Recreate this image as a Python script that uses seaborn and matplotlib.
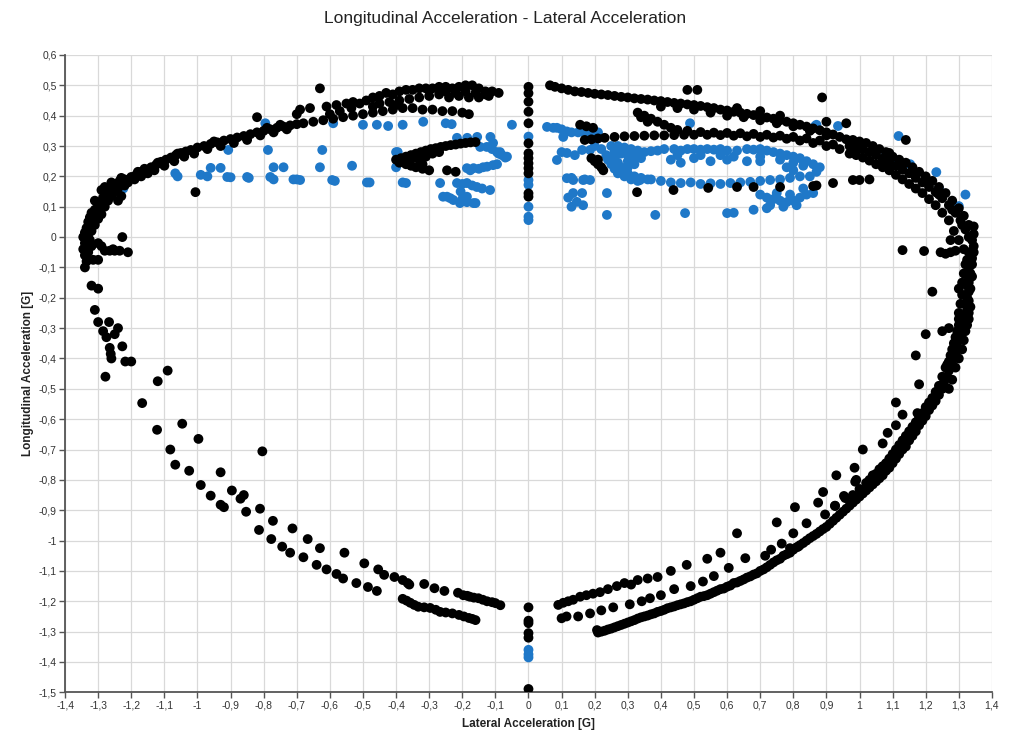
import numpy as np
import pandas as pd
import matplotlib
matplotlib.use("Agg")
import matplotlib.pyplot as plt
from matplotlib.ticker import MultipleLocator, FuncFormatter
import seaborn as sns

# ---- black trace (x = lateral G, y = longitudinal G), grouped by part of the lap ----
left_arc = [
    (-1.34, -0.10), (-1.335, -0.08), (-1.34, -0.06), (-1.345, -0.04), (-1.34, -0.02), (-1.345, 0.0),
    (-1.34, 0.015), (-1.335, 0.03), (-1.33, 0.05), (-1.325, 0.065), (-1.32, 0.08), (-1.31, 0.09),
    (-1.30, 0.10), (-1.295, 0.115), (-1.285, 0.13), (-1.28, 0.145), (-1.27, 0.155), (-1.265, 0.165),
    (-1.25, 0.175), (-1.235, 0.185), (-1.22, 0.19), (-1.20, 0.198), (-1.185, 0.205), (-1.17, 0.215),
    (-1.155, 0.222), (-1.14, 0.23), (-1.125, 0.238), (-1.11, 0.248), (-1.095, 0.255), (-1.08, 0.262),
    (-1.065, 0.27), (-1.05, 0.277), (-1.035, 0.282), (-1.02, 0.287), (-1.0, 0.295), (-0.98, 0.30),
    (-0.96, 0.307), (-0.94, 0.312), (-0.92, 0.318), (-0.90, 0.323), (-0.88, 0.328), (-0.86, 0.333),
    (-0.84, 0.339), (-0.82, 0.345), (-0.80, 0.35), (-0.78, 0.355), (-0.76, 0.36), (-0.74, 0.364),
    (-0.72, 0.368), (-0.70, 0.372),
    (-1.33, 0.0), (-1.32, 0.02), (-1.31, 0.04), (-1.30, 0.06), (-1.29, 0.075), (-1.315, 0.06),
    (-1.30, 0.085), (-1.28, 0.10), (-1.27, 0.12), (-1.26, 0.135), (-1.25, 0.15), (-1.24, 0.16),
    (-1.22, 0.17), (-1.21, 0.18), (-1.19, 0.19), (-1.17, 0.20), (-1.15, 0.21), (-1.13, 0.22),
    (-1.23, 0.135), (-1.24, 0.12), (-1.10, 0.235), (-1.07, 0.25), (-1.04, 0.265), (-1.01, 0.275),
    (-0.97, 0.29), (-0.93, 0.30), (-0.89, 0.31), (-0.85, 0.32), (-0.81, 0.335), (-0.77, 0.345),
    (-0.73, 0.355), (-1.30, -0.02), (-1.32, -0.03), (-1.325, -0.01), (-1.33, -0.05), (-1.315, -0.075),
    (-1.33, -0.075), (-1.30, -0.075),
    (-1.31, 0.12), (-1.29, 0.155), (-1.26, 0.18), (-1.23, 0.195), (-1.16, 0.225), (-1.12, 0.245),
    (-1.06, 0.275), (-0.95, 0.315), (-0.82, 0.395), (-0.70, 0.405), (-0.79, 0.36), (-0.75, 0.37),
    (-1.18, 0.215), (-1.28, 0.165),
    (-1.29, -0.03), (-1.227, 0.0), (-1.21, -0.05), (-1.28, -0.045), (-1.265, -0.045), (-1.25, -0.045),
    (-1.235, -0.045), (-1.255, -0.04), (-1.006, 0.148),
]

left_braking = [
    (-1.32, -0.16), (-1.30, -0.17), (-1.31, -0.24), (-1.30, -0.28), (-1.285, -0.31), (-1.275, -0.33),
    (-1.267, -0.28), (-1.25, -0.32), (-1.24, -0.30), (-1.265, -0.365), (-1.26, -0.40), (-1.262, -0.385),
    (-1.227, -0.36), (-1.218, -0.41), (-1.20, -0.41), (-1.278, -0.46), (-1.167, -0.547), (-1.12, -0.475),
    (-1.09, -0.44), (-1.122, -0.635), (-1.046, -0.615), (-1.082, -0.70), (-1.067, -0.75), (-1.025, -0.77),
    (-0.997, -0.665), (-0.93, -0.775), (-0.99, -0.817), (-0.96, -0.852), (-0.93, -0.882), (-0.92, -0.89),
    (-0.896, -0.835), (-0.87, -0.862), (-0.86, -0.85), (-0.853, -0.905), (-0.811, -0.895), (-0.814, -0.965),
    (-0.772, -0.935), (-0.777, -0.995), (-0.744, -1.02), (-0.713, -0.96), (-0.72, -1.04), (-0.68, -1.055),
    (-0.667, -0.995), (-0.64, -1.08), (-0.63, -1.025), (-0.61, -1.095), (-0.58, -1.11), (-0.56, -1.125),
    (-0.556, -1.04), (-0.52, -1.14), (-0.496, -1.075), (-0.485, -1.153), (-0.458, -1.166), (-0.454, -1.095),
    (-0.436, -1.113), (-0.405, -1.12), (-0.38, -1.13), (-0.365, -1.14), (-0.36, -1.145), (-0.315, -1.143),
    (-0.284, -1.157), (-0.254, -1.166), (-0.213, -1.172), (-0.197, -1.18), (-0.185, -1.182), (-0.177, -1.185),
    (-0.165, -1.188), (-0.151, -1.19), (-0.138, -1.195), (-0.125, -1.20), (-0.11, -1.203), (-0.10, -1.206),
    (-0.085, -1.213), (-0.804, -0.706),
    (-0.38, -1.192), (-0.368, -1.198), (-0.357, -1.205), (-0.345, -1.212), (-0.333, -1.218), (-0.315, -1.22),
    (-0.297, -1.222), (-0.28, -1.228), (-0.267, -1.235), (-0.25, -1.237), (-0.23, -1.24), (-0.21, -1.245),
    (-0.195, -1.25), (-0.18, -1.255), (-0.17, -1.258), (-0.16, -1.262),
]

left_top = [
    (-0.69, 0.42), (-0.66, 0.425), (-0.63, 0.49), (-0.61, 0.43), (-0.58, 0.435), (-0.55, 0.44),
    (-0.53, 0.445), (-0.51, 0.44), (-0.49, 0.45), (-0.47, 0.46), (-0.45, 0.465), (-0.43, 0.475),
    (-0.41, 0.47), (-0.39, 0.48), (-0.37, 0.485), (-0.35, 0.485), (-0.33, 0.49), (-0.31, 0.49),
    (-0.29, 0.49), (-0.27, 0.495), (-0.25, 0.495), (-0.23, 0.49), (-0.21, 0.495), (-0.19, 0.50),
    (-0.17, 0.50), (-0.15, 0.49), (-0.13, 0.48), (-0.11, 0.48), (-0.09, 0.475),
    (-0.45, 0.44), (-0.42, 0.445), (-0.39, 0.45), (-0.36, 0.455), (-0.33, 0.46), (-0.30, 0.465),
    (-0.27, 0.47), (-0.24, 0.46), (-0.21, 0.465), (-0.18, 0.46), (-0.15, 0.46), (-0.12, 0.465),
    (-0.25, 0.48), (-0.22, 0.475), (-0.19, 0.48), (-0.16, 0.475), (-0.13, 0.47),
    (-0.68, 0.375), (-0.65, 0.38), (-0.62, 0.385), (-0.59, 0.39), (-0.56, 0.395), (-0.53, 0.40),
    (-0.50, 0.405), (-0.47, 0.41), (-0.44, 0.415), (-0.41, 0.42), (-0.38, 0.425), (-0.35, 0.425),
    (-0.32, 0.42), (-0.29, 0.42), (-0.26, 0.415), (-0.23, 0.415), (-0.20, 0.41), (-0.18, 0.405),
    (-0.57, 0.415), (-0.60, 0.405), (-0.535, 0.425), (-0.47, 0.43), (-0.40, 0.435),
]

left_hook = [
    (-0.40, 0.255), (-0.385, 0.26), (-0.37, 0.265), (-0.355, 0.27), (-0.34, 0.275), (-0.325, 0.28),
    (-0.31, 0.285), (-0.295, 0.29), (-0.28, 0.293), (-0.265, 0.297), (-0.25, 0.30), (-0.235, 0.303),
    (-0.22, 0.305), (-0.205, 0.308), (-0.19, 0.31), (-0.175, 0.312), (-0.16, 0.313), (-0.39, 0.245),
    (-0.37, 0.24), (-0.355, 0.235), (-0.34, 0.23), (-0.32, 0.225), (-0.30, 0.22), (-0.36, 0.25),
    (-0.33, 0.255), (-0.31, 0.265), (-0.29, 0.275), (-0.27, 0.28), (-0.246, 0.22), (-0.22, 0.215),
    (-0.35, 0.26), (-0.32, 0.24),
]

centre_line = [
    (0, 0.495), (0, 0.474), (0, 0.446), (0, 0.413), (0, 0.375), (0, 0.309), (0, 0.276), (0, 0.26),
    (0, 0.243), (0, 0.227), (0, 0.21), (0, 0.144), (0, 0.133),
    (0, -1.22), (0, -1.264), (0, -1.272), (0, -1.305), (0, -1.32), (0, -1.489),
]

right_top = [
    (0.065, 0.50), (0.08, 0.495), (0.10, 0.49), (0.12, 0.485), (0.14, 0.48), (0.16, 0.478),
    (0.18, 0.475), (0.20, 0.472), (0.22, 0.47), (0.24, 0.468), (0.26, 0.465), (0.28, 0.462),
    (0.30, 0.46), (0.32, 0.457), (0.34, 0.455), (0.36, 0.453), (0.38, 0.45), (0.40, 0.448),
    (0.42, 0.445), (0.44, 0.442), (0.46, 0.44), (0.48, 0.437), (0.50, 0.435), (0.52, 0.432),
    (0.54, 0.428), (0.56, 0.425), (0.58, 0.42), (0.60, 0.417), (0.62, 0.413), (0.64, 0.41),
    (0.66, 0.406), (0.68, 0.402), (0.70, 0.398), (0.72, 0.394), (0.74, 0.39), (0.76, 0.385),
    (0.78, 0.38), (0.80, 0.375), (0.82, 0.37), (0.84, 0.364), (0.86, 0.358), (0.88, 0.352),
    (0.90, 0.345), (0.92, 0.338), (0.94, 0.33), (0.96, 0.322),
    (0.40, 0.43), (0.45, 0.425), (0.50, 0.42), (0.55, 0.41), (0.60, 0.40), (0.65, 0.395),
    (0.70, 0.385), (0.75, 0.375), (0.80, 0.365), (0.85, 0.35), (0.90, 0.335), (0.63, 0.425),
    (0.70, 0.415), (0.76, 0.40),
    (0.48, 0.485), (0.51, 0.485), (0.887, 0.46), (0.90, 0.38), (0.96, 0.375),
    (0.33, 0.41), (0.35, 0.40), (0.37, 0.39), (0.39, 0.38), (0.41, 0.37), (0.43, 0.36),
    (0.45, 0.353), (0.48, 0.35), (0.52, 0.346), (0.56, 0.344), (0.60, 0.343), (0.64, 0.342),
    (0.68, 0.34), (0.72, 0.337), (0.76, 0.334), (0.80, 0.33), (0.84, 0.325), (0.88, 0.318),
    (0.92, 0.305), (0.34, 0.395), (0.36, 0.38),
    (0.156, 0.37), (0.175, 0.365), (0.195, 0.36), (0.17, 0.32), (0.19, 0.322), (0.21, 0.325),
    (0.23, 0.327), (0.26, 0.33), (0.29, 0.332), (0.32, 0.333), (0.35, 0.334), (0.38, 0.335),
    (0.41, 0.335), (0.44, 0.336), (0.47, 0.337), (0.50, 0.337), (0.54, 0.337), (0.58, 0.336),
    (0.62, 0.334), (0.66, 0.332), (0.70, 0.33), (0.74, 0.328), (0.78, 0.324), (0.82, 0.318),
    (0.86, 0.31), (0.90, 0.30), (0.94, 0.29), (0.98, 0.28),
    (0.19, 0.26), (0.20, 0.25), (0.21, 0.24), (0.22, 0.23), (0.226, 0.22), (0.21, 0.255),
    (0.328, 0.148), (0.438, 0.155), (0.543, 0.162), (0.63, 0.165), (0.68, 0.165), (0.76, 0.165),
    (0.86, 0.168), (0.87, 0.17), (0.92, 0.178), (0.98, 0.188), (1.0, 0.188), (1.03, 0.19),
    (1.14, 0.32), (1.09, 0.277),
]

right_corner = [
    (0.98, 0.32), (1.00, 0.315), (1.02, 0.31), (1.04, 0.30), (1.06, 0.29), (1.08, 0.28),
    (1.10, 0.265), (1.12, 0.255), (1.14, 0.245), (1.16, 0.23), (1.18, 0.215), (1.20, 0.20),
    (1.22, 0.185), (1.24, 0.165), (1.26, 0.145), (1.28, 0.12), (1.30, 0.095), (1.315, 0.07),
    (1.33, 0.04), (1.345, 0.01),
    (0.97, 0.30), (0.99, 0.295), (1.01, 0.29), (1.03, 0.28), (1.05, 0.27), (1.07, 0.258),
    (1.09, 0.245), (1.11, 0.235), (1.13, 0.222), (1.15, 0.21), (1.17, 0.195), (1.19, 0.18),
    (1.21, 0.165), (1.23, 0.148), (1.25, 0.128), (1.27, 0.105), (1.29, 0.08), (1.305, 0.055),
    (1.32, 0.025), (1.33, 0.0),
    (0.97, 0.275), (0.99, 0.27), (1.01, 0.262), (1.03, 0.252), (1.05, 0.24), (1.07, 0.23),
    (1.09, 0.22), (1.11, 0.205), (1.13, 0.19), (1.15, 0.175), (1.17, 0.16), (1.19, 0.145),
    (1.21, 0.125), (1.23, 0.105), (1.25, 0.08), (1.27, 0.055), (1.285, 0.02), (1.30, -0.01),
    (1.315, -0.04), (1.325, -0.075),
    (1.00, 0.30), (1.04, 0.285), (1.08, 0.265), (1.12, 0.24), (1.16, 0.215), (1.20, 0.185),
    (1.24, 0.14), (1.28, 0.09), (1.31, 0.04), (1.34, -0.01), (1.345, -0.03), (1.345, 0.035),
    (1.33, -0.05),
    (1.13, -0.043), (1.195, -0.046), (1.245, -0.05), (1.26, -0.055), (1.275, -0.05), (1.29, -0.045),
    (1.22, -0.18), (1.30, -0.17), (1.275, -0.01), (1.333, -0.118), (1.33, -0.15),
]

right_braking = [
    (1.335, -0.08), (1.33, -0.10), (1.335, -0.12), (1.33, -0.14), (1.325, -0.16), (1.33, -0.18),
    (1.325, -0.20), (1.32, -0.22), (1.325, -0.24), (1.315, -0.26), (1.32, -0.28), (1.31, -0.30),
    (1.305, -0.32), (1.30, -0.34), (1.295, -0.36), (1.29, -0.38), (1.285, -0.40), (1.28, -0.42),
    (1.27, -0.44), (1.265, -0.46), (1.255, -0.48), (1.25, -0.50), (1.24, -0.52), (1.23, -0.54),
    (1.22, -0.555), (1.21, -0.57), (1.20, -0.59), (1.19, -0.605), (1.18, -0.62), (1.17, -0.64),
    (1.16, -0.655), (1.15, -0.67), (1.14, -0.69), (1.13, -0.70), (1.12, -0.715), (1.11, -0.73),
    (1.10, -0.745), (1.09, -0.76), (1.08, -0.77), (1.07, -0.785), (1.06, -0.795), (1.05, -0.805),
    (1.04, -0.815), (1.03, -0.825), (1.02, -0.835), (1.01, -0.845), (1.00, -0.855), (0.99, -0.865),
    (0.98, -0.875), (0.97, -0.885), (0.96, -0.895), (0.95, -0.905), (0.94, -0.915), (0.93, -0.925),
    (0.92, -0.935), (0.91, -0.945), (0.90, -0.955), (0.89, -0.962), (0.88, -0.97), (0.87, -0.978),
    (0.86, -0.985), (0.85, -0.992), (0.84, -1.0), (0.83, -1.008), (0.82, -1.015), (0.81, -1.022),
    (0.80, -1.03), (0.79, -1.04), (0.78, -1.045), (0.77, -1.05), (0.76, -1.06), (0.75, -1.065),
    (0.74, -1.072), (0.73, -1.08), (0.72, -1.088), (0.71, -1.095), (0.70, -1.10), (0.69, -1.108),
    (0.68, -1.112), (0.67, -1.118), (0.66, -1.122), (0.65, -1.128), (0.64, -1.133), (0.63, -1.138),
    (0.62, -1.14), (0.61, -1.148), (0.60, -1.152), (0.59, -1.158), (0.58, -1.16), (0.57, -1.165),
    (0.56, -1.17), (0.55, -1.175), (0.54, -1.18), (0.53, -1.183), (0.52, -1.185), (0.51, -1.19),
    (0.50, -1.195), (0.49, -1.2), (0.48, -1.203), (0.47, -1.207), (0.46, -1.21), (0.45, -1.213),
    (0.44, -1.217), (0.43, -1.22), (0.42, -1.223), (0.41, -1.228), (0.40, -1.232), (0.39, -1.235),
    (0.38, -1.24), (0.37, -1.243), (0.36, -1.247), (0.35, -1.25), (0.34, -1.253), (0.33, -1.257),
    (0.32, -1.262), (0.31, -1.266), (0.30, -1.27), (0.29, -1.274), (0.28, -1.278), (0.27, -1.282),
    (0.26, -1.286), (0.25, -1.29), (0.24, -1.293), (0.23, -1.297), (0.22, -1.30), (0.21, -1.303),
    (0.207, -1.295),
    (1.30, -0.25), (1.30, -0.29), (1.29, -0.33), (1.28, -0.37), (1.27, -0.41), (1.26, -0.43),
    (1.25, -0.46), (1.24, -0.49), (1.23, -0.51), (1.22, -0.53), (1.21, -0.545), (1.20, -0.56),
    (1.19, -0.58), (1.18, -0.595), (1.17, -0.61), (1.16, -0.625), (1.15, -0.64), (1.14, -0.655),
    (1.13, -0.67), (1.12, -0.685), (1.11, -0.70), (1.10, -0.715), (1.09, -0.73), (1.08, -0.745),
    (1.07, -0.755), (1.06, -0.765), (1.05, -0.78), (1.04, -0.79), (1.03, -0.80), (1.02, -0.81),
    (1.00, -0.83), (0.98, -0.85),
    (1.345, -0.05), (1.34, -0.09), (1.34, -0.13), (1.335, -0.17), (1.33, -0.21), (1.33, -0.25),
    (1.325, -0.29),
    (1.32, -0.09), (1.315, -0.12), (1.31, -0.15), (1.31, -0.19), (1.305, -0.22), (1.30, -0.27),
    (1.295, -0.31), (1.285, -0.35), (1.275, -0.39), (1.265, -0.42), (1.34, -0.07), (1.335, -0.23),
    (1.33, -0.27), (1.32, -0.31), (1.315, -0.34), (1.31, -0.37), (1.30, -0.40), (1.29, -0.43),
    (1.28, -0.47), (1.27, -0.50),
    (1.20, -0.32), (1.25, -0.31), (1.27, -0.30), (1.17, -0.39), (1.18, -0.485), (1.11, -0.545),
    (1.13, -0.585), (1.175, -0.58), (1.11, -0.62), (1.085, -0.645), (1.07, -0.68), (1.01, -0.70),
    (0.985, -0.76), (0.99, -0.80), (0.93, -0.785), (1.04, -0.785), (0.957, -0.86), (0.926, -0.885),
    (0.09, -1.212), (0.105, -1.205), (0.12, -1.2), (0.135, -1.195), (0.156, -1.185), (0.175, -1.18),
    (0.195, -1.175), (0.216, -1.17), (0.24, -1.16), (0.267, -1.15), (0.29, -1.14), (0.31, -1.145),
    (0.33, -1.13), (0.36, -1.125), (0.39, -1.12), (0.43, -1.10), (0.478, -1.08), (0.54, -1.06),
    (0.58, -1.04), (0.63, -0.976), (0.655, -1.058), (0.75, -0.94), (0.805, -0.89), (0.875, -0.875),
    (0.89, -0.84), (0.987, -0.806), (0.953, -0.853),
    (0.10, -1.256), (0.115, -1.25), (0.15, -1.25), (0.186, -1.24), (0.22, -1.23), (0.256, -1.22),
    (0.306, -1.21), (0.342, -1.20), (0.367, -1.19), (0.40, -1.18), (0.44, -1.16), (0.49, -1.15),
    (0.527, -1.135), (0.56, -1.117), (0.605, -1.09), (0.715, -1.05), (0.733, -1.03), (0.765, -1.01),
    (0.80, -0.976), (0.84, -0.943), (0.896, -0.914), (0.926, -0.886), (0.79, -1.025), (0.815, -1.02),
]

# ---- blue trace ----
blue_left = [
    (-1.224, 0.16), (-1.067, 0.21), (-1.06, 0.20), (-0.99, 0.205), (-0.97, 0.20), (-0.96, 0.228),
    (-0.93, 0.228), (-0.91, 0.198), (-0.90, 0.197), (-0.907, 0.287), (-0.85, 0.198), (-0.845, 0.195),
    (-0.795, 0.375), (-0.787, 0.287), (-0.77, 0.23), (-0.74, 0.23), (-0.78, 0.198), (-0.77, 0.19),
    (-0.71, 0.19), (-0.70, 0.19), (-0.69, 0.188), (-0.593, 0.188), (-0.585, 0.185), (-0.59, 0.375),
    (-0.623, 0.287), (-0.63, 0.23), (-0.533, 0.235), (-0.50, 0.37), (-0.458, 0.37), (-0.424, 0.366),
    (-0.38, 0.37), (-0.318, 0.38), (-0.488, 0.18), (-0.48, 0.18), (-0.40, 0.23), (-0.40, 0.28),
    (-0.395, 0.28), (-0.38, 0.18), (-0.37, 0.178), (-0.25, 0.375), (-0.232, 0.372), (-0.216, 0.327),
    (-0.185, 0.327), (-0.155, 0.33), (-0.115, 0.33), (-0.146, 0.297), (-0.107, 0.31), (-0.086, 0.28),
    (-0.065, 0.265), (-0.166, 0.227), (-0.137, 0.23), (-0.107, 0.237), (-0.186, 0.227), (-0.267, 0.178),
    (-0.216, 0.178), (-0.186, 0.178), (-0.156, 0.165), (-0.116, 0.155), (-0.258, 0.133), (-0.227, 0.122),
    (-0.207, 0.112), (-0.166, 0.112), (-0.186, 0.133), (-0.05, 0.37),
    (-0.126, 0.297), (-0.11, 0.29), (-0.095, 0.28), (-0.08, 0.27), (-0.07, 0.262), (-0.176, 0.22),
    (-0.15, 0.225), (-0.125, 0.232), (-0.095, 0.24), (-0.2, 0.175), (-0.17, 0.17), (-0.14, 0.16),
    (-0.246, 0.133), (-0.236, 0.128), (-0.2, 0.125), (-0.186, 0.115), (-0.16, 0.112), (-0.205, 0.15),
    (-0.09, 0.275),
]

blue_centre = [
    (0, 0.331), (0, 0.188), (0, 0.172), (0, 0.1), (0, 0.067), (0, 0.056),
    (0, -1.36), (0, -1.375), (0, -1.385),
]

blue_right = [
    (0.056, 0.363), (0.075, 0.36), (0.086, 0.36), (0.10, 0.355), (0.116, 0.348), (0.13, 0.345),
    (0.15, 0.345), (0.17, 0.343), (0.19, 0.345), (0.21, 0.345),
    (0.105, 0.33), (0.086, 0.254), (0.116, 0.277), (0.116, 0.194), (0.135, 0.188), (0.165, 0.188),
    (0.135, 0.145), (0.146, 0.116), (0.165, 0.105), (0.162, 0.145), (0.186, 0.188), (0.237, 0.145),
    (0.237, 0.073), (0.383, 0.073), (0.473, 0.079), (0.60, 0.079), (0.62, 0.08), (0.68, 0.09),
    (0.162, 0.287), (0.186, 0.287), (0.12, 0.13), (0.13, 0.10), (0.10, 0.28), (0.14, 0.27),
    (0.13, 0.195), (0.17, 0.19),
    (0.25, 0.30), (0.27, 0.30), (0.29, 0.295), (0.31, 0.29), (0.33, 0.285), (0.35, 0.28),
    (0.37, 0.283), (0.39, 0.285), (0.26, 0.28), (0.28, 0.275), (0.30, 0.27), (0.32, 0.265),
    (0.34, 0.26), (0.26, 0.26), (0.27, 0.245), (0.28, 0.23), (0.29, 0.22), (0.30, 0.21),
    (0.32, 0.20), (0.34, 0.195), (0.36, 0.19), (0.25, 0.24), (0.26, 0.225), (0.27, 0.21),
    (0.29, 0.20), (0.31, 0.19), (0.33, 0.185), (0.30, 0.25), (0.32, 0.24), (0.24, 0.255),
    (0.235, 0.27), (0.22, 0.29), (0.20, 0.30), (0.30, 0.23),
    (0.41, 0.29), (0.44, 0.29), (0.46, 0.285), (0.48, 0.29), (0.50, 0.29), (0.52, 0.288),
    (0.54, 0.29), (0.56, 0.288), (0.58, 0.29), (0.60, 0.285), (0.63, 0.285), (0.66, 0.29),
    (0.68, 0.288), (0.70, 0.29), (0.72, 0.285), (0.74, 0.28), (0.76, 0.275), (0.78, 0.27),
    (0.80, 0.265), (0.82, 0.26), (0.84, 0.25), (0.86, 0.24), (0.88, 0.23), (0.45, 0.27),
    (0.52, 0.27), (0.58, 0.27), (0.62, 0.265), (0.70, 0.265), (0.76, 0.255), (0.80, 0.245),
    (0.83, 0.235), (0.87, 0.215), (0.85, 0.20), (0.80, 0.22), (0.78, 0.23),
    (0.43, 0.255), (0.50, 0.26), (0.55, 0.25), (0.66, 0.25), (0.70, 0.25), (0.60, 0.255),
    (0.46, 0.245),
    (0.43, 0.18), (0.46, 0.178), (0.49, 0.18), (0.52, 0.175), (0.55, 0.177), (0.58, 0.175),
    (0.61, 0.178), (0.64, 0.18), (0.67, 0.182), (0.70, 0.185), (0.73, 0.188), (0.76, 0.19),
    (0.79, 0.195), (0.82, 0.20), (0.40, 0.185), (0.37, 0.19), (0.337, 0.188),
    (0.70, 0.14), (0.72, 0.13), (0.74, 0.125), (0.76, 0.12), (0.78, 0.115), (0.80, 0.12),
    (0.82, 0.13), (0.84, 0.14), (0.86, 0.145), (0.75, 0.145), (0.79, 0.14), (0.73, 0.105),
    (0.77, 0.10), (0.81, 0.105), (0.72, 0.095), (0.83, 0.16),
    (0.488, 0.375), (0.87, 0.37), (1.118, 0.333), (1.108, 0.254), (1.153, 0.24), (1.232, 0.214),
    (1.32, 0.14), (1.30, 0.102), (1.24, 0.16), (1.08, 0.27), (0.935, 0.366), (0.866, 0.366),
]

series = {
    "blue": blue_left + blue_centre + blue_right,
    "black": left_arc + left_braking + left_top + left_hook + centre_line
             + right_top + right_corner + right_braking,
}

rows = []
for name, pts in series.items():
    for x, y in pts:
        rows.append({"lat": x, "lon": y, "trace": name})
df = pd.DataFrame(rows)

sns.set_theme(style="white")
plt.rcParams["font.family"] = ["Liberation Sans", "DejaVu Sans"]

fig = plt.figure(figsize=(10.1, 7.32), dpi=100)
ax = fig.add_axes([0.0644, 0.0542, 0.9177, 0.8707])

sns.scatterplot(data=df, x="lat", y="lon", hue="trace",
                palette={"blue": "#1f78c8", "black": "#000000"},
                hue_order=["blue", "black"], s=50, linewidth=0,
                alpha=1, legend=False, ax=ax, zorder=3)

ax.set_xlim(-1.4, 1.4)
ax.set_ylim(-1.5, 0.6)
ax.xaxis.set_major_locator(MultipleLocator(0.1))
ax.yaxis.set_major_locator(MultipleLocator(0.1))


def comma_fmt(v, pos):
    s = f"{round(v, 1):g}"
    if s == "-0":
        s = "0"
    return s.replace(".", ",")


ax.xaxis.set_major_formatter(FuncFormatter(comma_fmt))
ax.yaxis.set_major_formatter(FuncFormatter(comma_fmt))
ax.grid(True, color="#d9d9d9", linewidth=0.9, zorder=0)
ax.set_axisbelow(True)

for side in ["top", "right"]:
    ax.spines[side].set_visible(False)
for side in ["left", "bottom"]:
    ax.spines[side].set_color("#555555")
    ax.spines[side].set_linewidth(1.3)

ax.tick_params(axis="both", which="major", direction="out", length=4, width=1,
               color="#555555", labelsize=7.5, labelcolor="#333333", pad=2,
               bottom=True, left=True)

ax.set_xlabel("Lateral Acceleration [G]", fontsize=8.5, fontweight="bold",
              color="#222222", labelpad=5)
ax.set_ylabel("Longitudinal Acceleration [G]", fontsize=8.5, fontweight="bold",
              color="#222222", labelpad=3)
fig.text(0.5, 0.975, "Longitudinal Acceleration - Lateral Acceleration",
         ha="center", va="center", fontsize=12.5, color="#222222")

fig.savefig("out.png", dpi=100)
